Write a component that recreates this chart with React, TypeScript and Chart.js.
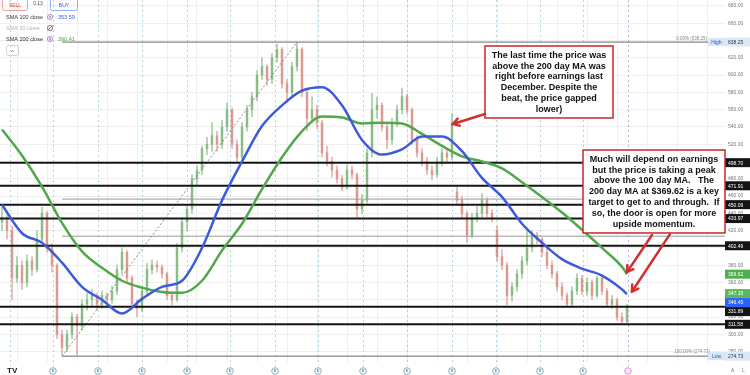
import React, { useEffect, useRef } from "react";
import { Chart, registerables } from "chart.js";

Chart.register(...registerables);

// ---------------- data ----------------
const opens = [
  430, 435, 420, 365, 380, 360, 385, 375, 410, 440,
  400, 380, 300, 285, 300, 320, 310, 335, 340, 345,
  335, 345, 340, 350, 375, 395, 365, 335, 330, 350,
  375, 380, 378, 370, 345, 340, 400, 430, 445, 480,
  490, 515, 520, 530, 520, 540, 560, 520, 505, 540,
  560, 575, 600, 610, 595, 620, 630, 590, 580, 610,
  630, 580, 550, 560, 545, 510, 500, 490, 480, 470,
  490, 485, 445, 455, 510, 560, 565, 540, 525, 545,
  560, 575, 560, 525, 510, 500, 490, 485, 500, 510,
  505, 465, 455, 440, 415, 435, 440, 455, 440, 420,
  390, 380, 345, 355, 370, 385, 400, 415, 410, 395,
  380, 370, 355, 345, 335, 350, 365, 350, 360, 345,
  365, 350, 335, 340, 320, 315,
];
const highs = [
  447, 438, 425, 390, 385, 392, 390, 420, 447, 442,
  405, 382, 305, 305, 325, 323, 340, 348, 352, 348,
  350, 348, 356, 380, 400, 397, 368, 340, 355, 382,
  386, 385, 380, 372, 348, 405, 435, 450, 485, 495,
  518, 528, 545, 535, 548, 568, 562, 525, 545, 565,
  580, 605, 620, 612, 625, 636, 632, 595, 615, 638,
  632, 585, 575, 565, 548, 518, 505, 495, 484, 496,
  495, 487, 462, 515, 579, 575, 568, 545, 550, 565,
  585, 578, 562, 530, 515, 505, 495, 505, 515, 514,
  556, 470, 460, 442, 440, 448, 463, 458, 444, 425,
  398, 383, 360, 375, 390, 420, 420, 418, 412, 400,
  385, 373, 360, 348, 355, 370, 368, 365, 363, 367,
  367, 353, 345, 342, 325, 335,
];
const lows = [
  420, 410, 340, 360, 352, 355, 368, 372, 405, 395,
  372, 295, 276, 280, 295, 276, 305, 328, 333, 328,
  330, 333, 336, 346, 370, 360, 330, 320, 326, 346,
  370, 372, 365, 340, 334, 338, 395, 420, 440, 472,
  485, 508, 512, 512, 515, 535, 515, 500, 500, 535,
  552, 570, 595, 588, 590, 615, 585, 568, 575, 605,
  575, 535, 545, 538, 505, 495, 482, 475, 466, 468,
  480, 436, 440, 452, 505, 550, 535, 515, 520, 540,
  555, 555, 520, 505, 495, 485, 479, 482, 495, 498,
  502, 450, 435, 406, 412, 430, 436, 436, 430, 385,
  375, 334, 338, 350, 365, 380, 395, 405, 390, 376,
  365, 350, 340, 332, 333, 346, 346, 345, 340, 342,
  346, 332, 330, 316, 313, 313,
];
const closes = [
  435, 420, 365, 380, 360, 385, 375, 410, 440, 400,
  380, 300, 285, 300, 320, 310, 335, 340, 345, 335,
  345, 340, 350, 375, 395, 365, 335, 330, 350, 375,
  380, 378, 370, 345, 340, 400, 430, 445, 480, 490,
  515, 520, 530, 520, 540, 560, 520, 505, 540, 560,
  575, 600, 610, 595, 620, 630, 590, 580, 610, 630,
  580, 550, 560, 545, 510, 500, 490, 480, 470, 490,
  485, 445, 455, 510, 560, 565, 540, 525, 545, 560,
  575, 560, 525, 510, 500, 490, 485, 500, 510, 505,
  545, 455, 440, 415, 435, 440, 455, 440, 435, 390,
  380, 345, 355, 370, 385, 400, 415, 410, 395, 380,
  370, 355, 345, 335, 350, 365, 350, 360, 345, 365,
  350, 335, 340, 320, 315, 332,
];

const smaIdx = [0, 4, 8, 12, 16, 20, 24, 28, 32, 36, 40, 44, 48, 52, 56, 60, 64, 68, 72, 76, 80, 84, 88, 92, 96, 100, 104, 108, 112, 116, 120, 124, 125];
const sma100 = [450, 417, 406, 383, 355, 340, 324, 341, 355, 362, 400, 455, 500, 541, 565, 582, 586, 565, 525, 508, 514, 529, 529, 512, 481, 459, 428, 406, 387, 376, 368, 352, 346.45];
const sma200 = [537, 507, 471, 429, 396, 377, 362, 354, 349, 348, 362, 397, 428, 468, 505, 535, 552, 551, 544, 545, 544, 532, 518, 506, 500, 492, 476, 459, 441, 421, 400, 378, 369.62];

const levelValues = [498.7, 471.91, 450.09, 433.97, 402.49, 331.89, 311.58];
const fibLevels = [456.49, 413.59];
const fibHigh = 638.25;
const fibLow = 274.73;
const fibLowIdx = 12;
const fibHighIdx = 59;

const earningsIdx = [1.6, 10.2, 19.2, 28, 37, 45.6, 54.6, 63.2, 72.2, 81, 90, 98.8, 107.6, 116.2];
const todayIdx = 125.2;
const gridIdx = [3, 9, 15, 21, 27, 33, 39, 45, 51, 57, 63, 69, 75, 81, 87, 93, 99, 105, 111, 117, 123, 129, 135, 141];

const axisLabelValues = [638.25, 498.7, 471.91, 450.09, 433.97, 402.49, 369.62, 347.15, 346.45, 331.89, 311.58, 274.73];
const axisLabelKinds = ["hl", "lvl", "lvl", "lvl", "lvl", "lvl", "sma200", "price", "sma100", "lvl", "lvl", "hl"];

const note1Lines = [
  "The last time the price was",
  "above the 200 day MA was",
  "right before earnings last",
  "December. Despite the",
  "beat, the price gapped",
  "lower)",
];
const note2Lines = [
  "Much will depend on earnings",
  "but the price is taking a peak",
  "above the 100 day MA.   The",
  "200 day MA at $369.62 is a key",
  "target to get to and through.  If",
  "so, the door is open for more",
  "upside momentum.",
];
const note1Box = { left: 96.6, right: 122.2, top: 633.7, bottom: 550.4 };
const note2Box = { left: 116.2, right: 144.6, top: 513.3, bottom: 417.3 };
const arrows = [
  { from: { x: 96.6, y: 555 }, to: { x: 90.2, y: 543.5 } },
  { from: { x: 130, y: 415 }, to: { x: 125, y: 372 } },
  { from: { x: 133.6, y: 416 }, to: { x: 126, y: 349.5 } },
];

const X_MIN = -0.4;
const X_MAX = 144.6;
const Y_MIN = 267.96;
const Y_MAX = 686.94;

const UP = "rgba(110,172,105,0.6)";
const DOWN = "rgba(212,128,116,0.6)";
const BLUE = "#3b5bdb";
const GREEN = "#4fa84a";
const RED = "#d32f2f";

function drawArrow(ctx: CanvasRenderingContext2D, x1: number, y1: number, x2: number, y2: number) {
  ctx.beginPath();
  ctx.moveTo(x1, y1);
  ctx.lineTo(x2, y2);
  ctx.stroke();
  const ang = Math.atan2(y2 - y1, x2 - x1);
  const L = 7;
  ctx.beginPath();
  ctx.moveTo(x2 - L * Math.cos(ang - 0.55), y2 - L * Math.sin(ang - 0.55));
  ctx.lineTo(x2, y2);
  ctx.lineTo(x2 - L * Math.cos(ang + 0.55), y2 - L * Math.sin(ang + 0.55));
  ctx.stroke();
}

const overlay = {
  id: "overlay",
  beforeDatasetsDraw(chart: any) {
    const { ctx, chartArea: a } = chart;
    const x = chart.scales.x;
    ctx.save();
    ctx.lineWidth = 1;
    ctx.setLineDash([2, 3]);
    ctx.strokeStyle = "rgba(130,185,210,0.6)";
    for (const e of earningsIdx) {
      const px = Math.round(x.getPixelForValue(e)) + 0.5;
      ctx.beginPath();
      ctx.moveTo(px, a.top);
      ctx.lineTo(px, a.bottom + 4);
      ctx.stroke();
    }
    ctx.strokeStyle = "rgba(190,140,210,0.75)";
    const tp = Math.round(x.getPixelForValue(todayIdx)) + 0.5;
    ctx.beginPath();
    ctx.moveTo(tp, a.top);
    ctx.lineTo(tp, a.bottom + 4);
    ctx.stroke();
    ctx.restore();
  },
  afterDraw(chart: any) {
    const { ctx, chartArea: a } = chart;
    const x = chart.scales.x;
    const y = chart.scales.y;
    ctx.save();
    ctx.setLineDash([]);

    // fib labels
    ctx.font = "4.5px 'Liberation Sans', Arial, sans-serif";
    ctx.fillStyle = "#888";
    ctx.textAlign = "right";
    ctx.textBaseline = "alphabetic";
    ctx.fillText("0.00% (" + fibHigh.toFixed(2) + ")", a.right - 18, y.getPixelForValue(fibHigh) - 2);
    ctx.fillText("100.00% (" + fibLow.toFixed(2) + ")", a.right - 15, y.getPixelForValue(fibLow) - 3);

    // High / Low tags
    ctx.font = "5px 'Liberation Sans', Arial, sans-serif";
    ctx.textAlign = "center";
    ctx.textBaseline = "middle";
    for (const [txt, v] of [["High", fibHigh], ["Low", fibLow]] as [string, number][]) {
      const py = y.getPixelForValue(v);
      ctx.fillStyle = "#d6e6f6";
      ctx.fillRect(a.right - 17, py - 4, 17, 8);
      ctx.fillStyle = "#2a5caa";
      ctx.fillText(txt, a.right - 8.5, py + 0.5);
    }

    // right axis value labels
    const items = axisLabelValues.map((v, i) => ({ v, kind: axisLabelKinds[i], py: y.getPixelForValue(v) }));
    items.sort((p, q) => p.py - q.py);
    for (let i = 1; i < items.length; i++) {
      if (items[i].py < items[i - 1].py + 9) items[i].py = items[i - 1].py + 9;
    }
    ctx.textAlign = "left";
    for (const it of items) {
      let bg = "#141414";
      let fg = "#ffffff";
      if (it.kind === "hl") { bg = "#dbe8f6"; fg = "#333"; }
      if (it.kind === "sma200") { bg = "#4caf50"; }
      if (it.kind === "price") { bg = "#5cb85c"; }
      if (it.kind === "sma100") { bg = "#2962ff"; }
      ctx.fillStyle = bg;
      ctx.fillRect(a.right, it.py - 4.5, chart.width - a.right, 9);
      ctx.fillStyle = fg;
      ctx.fillText(it.v.toFixed(2), a.right + 3, it.py + 0.5);
    }

    // notes
    const drawNote = (box: any, lines: string[]) => {
      const l = x.getPixelForValue(box.left);
      const r = x.getPixelForValue(box.right);
      const t = y.getPixelForValue(box.top);
      const b = y.getPixelForValue(box.bottom);
      ctx.fillStyle = "#ffffff";
      ctx.fillRect(l, t, r - l, b - t);
      ctx.strokeStyle = "#c62828";
      ctx.lineWidth = 1.5;
      ctx.strokeRect(l, t, r - l, b - t);
      ctx.fillStyle = "#111";
      ctx.font = "bold 9px 'Liberation Sans', Arial, sans-serif";
      ctx.textAlign = "center";
      ctx.textBaseline = "middle";
      lines.forEach((ln, i) => ctx.fillText(ln, (l + r) / 2, t + 9.2 + i * 10.85));
    };
    drawNote(note1Box, note1Lines);
    drawNote(note2Box, note2Lines);

    ctx.strokeStyle = RED;
    ctx.lineWidth = 2.5;
    ctx.lineCap = "round";
    for (const ar of arrows) {
      drawArrow(
        ctx,
        x.getPixelForValue(ar.from.x), y.getPixelForValue(ar.from.y),
        x.getPixelForValue(ar.to.x), y.getPixelForValue(ar.to.y)
      );
    }
    ctx.lineCap = "butt";

    // header (trade buttons + legend)
    ctx.lineWidth = 1;
    ctx.font = "5px 'Liberation Sans', Arial, sans-serif";
    ctx.textAlign = "center";
    ctx.strokeStyle = "#f2a0a0";
    ctx.beginPath();
    (ctx as any).roundRect(2.5, -3, 25, 13.5, 2);
    ctx.stroke();
    ctx.fillStyle = "#e53935";
    ctx.fillText("SELL", 15, 6);
    ctx.fillStyle = "#555";
    ctx.fillText("0.13", 38, 4);
    ctx.strokeStyle = "#8fb0ff";
    ctx.beginPath();
    (ctx as any).roundRect(50.5, -3, 27, 13.5, 2);
    ctx.stroke();
    ctx.fillStyle = "#2962ff";
    ctx.fillText("BUY", 64, 6);

    const rows = [
      { label: "SMA 100 close", value: "353.59", color: "#333", vcolor: BLUE, y: 17, eye: false },
      { label: "SMA 50 close", value: "", color: "#b5b5b5", vcolor: "#999", y: 28, eye: true },
      { label: "SMA 200 close", value: "390.41", color: "#333", vcolor: GREEN, y: 39, eye: false },
    ];
    ctx.font = "5.5px 'Liberation Sans', Arial, sans-serif";
    for (const r of rows) {
      ctx.textAlign = "left";
      ctx.fillStyle = r.color;
      ctx.fillText(r.label, 6, r.y);
      ctx.strokeStyle = r.eye ? "#777" : "#9c8ccf";
      ctx.beginPath();
      ctx.arc(50, r.y, 2.5, 0, Math.PI * 2);
      ctx.stroke();
      if (r.eye) {
        ctx.beginPath();
        ctx.moveTo(47.5, r.y + 2.5);
        ctx.lineTo(52.5, r.y - 2.5);
        ctx.stroke();
      } else {
        ctx.fillStyle = "#9c8ccf";
        ctx.beginPath();
        ctx.arc(50, r.y, 1, 0, Math.PI * 2);
        ctx.fill();
      }
      if (r.value) {
        ctx.fillStyle = r.vcolor;
        ctx.fillText(r.value, 58, r.y);
      }
    }
    ctx.strokeStyle = "#d0d0d0";
    ctx.beginPath();
    (ctx as any).roundRect(6.5, 45.5, 12, 10, 2);
    ctx.stroke();
    ctx.fillStyle = "#555";
    ctx.textAlign = "center";
    ctx.fillText("^", 12.5, 52);

    // bottom earnings icons
    ctx.font = "bold 4px 'Liberation Sans', Arial, sans-serif";
    const icons = earningsIdx.slice(1);
    for (const e of icons) {
      const px = x.getPixelForValue(e);
      ctx.strokeStyle = "#7fb0bf";
      ctx.fillStyle = "#ffffff";
      ctx.beginPath();
      ctx.arc(px, 371, 3.3, 0, Math.PI * 2);
      ctx.fill();
      ctx.stroke();
      ctx.fillStyle = "#5f96a6";
      ctx.fillText("E", px, 371.3);
    }
    {
      const px = x.getPixelForValue(todayIdx);
      ctx.strokeStyle = "#d59ad8";
      ctx.fillStyle = "#f6e3f7";
      ctx.beginPath();
      ctx.arc(px, 371, 3.3, 0, Math.PI * 2);
      ctx.fill();
      ctx.stroke();
    }
    // logo + axis buttons
    ctx.fillStyle = "#131722";
    ctx.font = "bold 8px 'Liberation Sans', Arial, sans-serif";
    ctx.textAlign = "left";
    ctx.fillText("TV", 7, 371);
    ctx.fillStyle = "#777";
    ctx.font = "5px 'Liberation Sans', Arial, sans-serif";
    ctx.fillText("A", 731, 371);
    ctx.fillText("L", 742, 371);
    ctx.restore();
  },
};

export default function App() {
  const ref = useRef<HTMLCanvasElement | null>(null);
  useEffect(() => {
    document.body.style.margin = "0";
    const canvas = ref.current;
    if (!canvas) return;
    const idx = opens.map((_, i) => i);
    const colorFor = (i: number) => (closes[i] >= opens[i] ? UP : DOWN);
    const levelSets = levelValues.map((v) => ({
      type: "line",
      data: [{ x: X_MIN, y: v }, { x: X_MAX, y: v }],
      borderColor: "#151515",
      borderWidth: 2,
      pointRadius: 0,
      order: 1,
    }));
    const fibSets = fibLevels.map((v) => ({
      type: "line",
      data: [{ x: fibLowIdx, y: v }, { x: X_MAX, y: v }],
      borderColor: "#9a9a9a",
      borderWidth: 1,
      pointRadius: 0,
      order: 1,
    }));
    const hlSets = [fibHigh, fibLow].map((v) => ({
      type: "line",
      data: [{ x: fibLowIdx, y: v }, { x: X_MAX, y: v }],
      borderColor: "#6a6a6a",
      borderWidth: 1,
      pointRadius: 0,
      order: 1,
    }));
    const chart = new Chart(canvas, {
      type: "bar",
      data: {
        datasets: [
          {
            type: "line",
            data: smaIdx.map((v, i) => ({ x: v, y: sma100[i] })),
            borderColor: BLUE,
            borderWidth: 2.5,
            pointRadius: 0,
            cubicInterpolationMode: "monotone",
            order: 0,
          },
          {
            type: "line",
            data: smaIdx.map((v, i) => ({ x: v, y: sma200[i] })),
            borderColor: GREEN,
            borderWidth: 2.5,
            pointRadius: 0,
            cubicInterpolationMode: "monotone",
            order: 0,
          },
          ...levelSets,
          ...fibSets,
          ...hlSets,
          {
            type: "line",
            data: [{ x: fibLowIdx, y: fibLow }, { x: fibHighIdx, y: fibHigh }],
            borderColor: "#8a8a8a",
            borderWidth: 1,
            borderDash: [2, 2],
            pointRadius: 0,
            order: 1,
          },
          {
            type: "bar",
            data: idx.map((i) => ({ x: i, y: [lows[i], highs[i]] })),
            backgroundColor: idx.map(colorFor),
            barThickness: 1,
            grouped: false,
            order: 3,
          },
          {
            type: "bar",
            data: idx.map((i) => ({ x: i, y: [opens[i], closes[i]] })),
            backgroundColor: idx.map(colorFor),
            barThickness: 2,
            grouped: false,
            order: 2,
          },
        ] as any,
      },
      options: {
        animation: false,
        responsive: false,
        events: [],
        layout: { padding: { left: 0, right: 0, top: 0, bottom: 13 } },
        plugins: { legend: { display: false }, tooltip: { enabled: false } },
        scales: {
          x: {
            type: "linear",
            min: X_MIN,
            max: X_MAX,
            offset: false,
            border: { display: false },
            grid: { color: "#efefef", lineWidth: 1, drawTicks: false, offset: false },
            ticks: { display: false },
            afterBuildTicks: (s: any) => {
              s.ticks = gridIdx.map((v) => ({ value: v }));
            },
          },
          y: {
            type: "linear",
            position: "right",
            min: Y_MIN,
            max: Y_MAX,
            border: { display: false },
            grid: { color: "#efefef", lineWidth: 1, drawTicks: false },
            ticks: {
              stepSize: 20,
              autoSkip: false,
              padding: 3,
              color: "#777",
              font: { size: 5, family: "'Liberation Sans', Arial, sans-serif" },
              callback: (v: any) => Number(v).toFixed(2),
            },
            afterBuildTicks: (s: any) => {
              s.ticks = s.ticks.filter((t: any) => Math.abs(t.value % 20) < 1e-6);
            },
            afterFit: (s: any) => {
              s.width = 25;
              s.paddingTop = 0;
              s.paddingBottom = 0;
            },
          },
        },
      } as any,
      plugins: [overlay],
    });
    return () => chart.destroy();
  }, []);
  return (
    <div style={{ width: 750, height: 375, background: "#fff" }}>
      <canvas ref={ref} width={750} height={375} style={{ display: "block" }} />
    </div>
  );
}
